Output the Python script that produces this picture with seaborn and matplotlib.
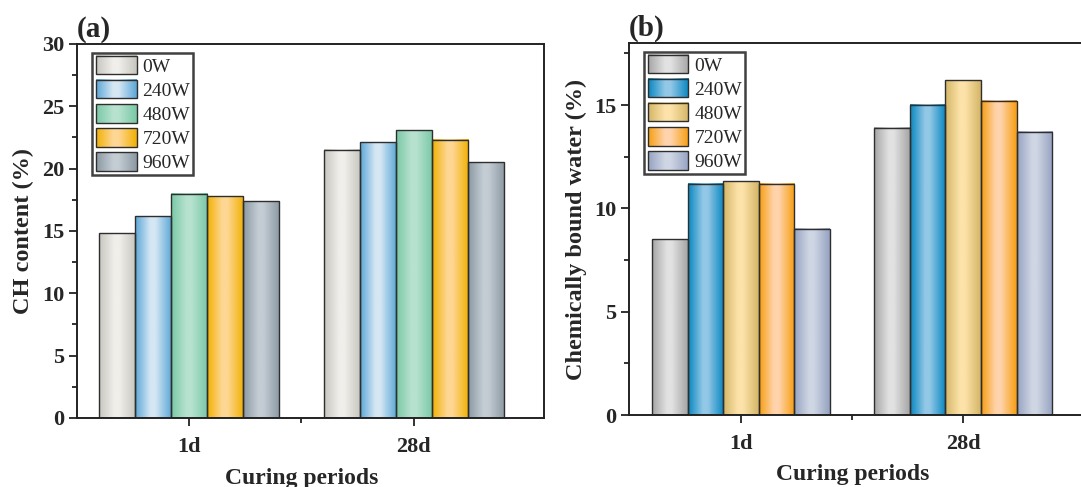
import numpy as np
import pandas as pd
import matplotlib
matplotlib.use("Agg")
import matplotlib.pyplot as plt
import seaborn as sns
from matplotlib.colors import LinearSegmentedColormap, Normalize
from matplotlib.legend_handler import HandlerBase
from matplotlib.image import BboxImage
from matplotlib.transforms import Bbox, TransformedBbox
from matplotlib.patches import Rectangle
from matplotlib.ticker import MultipleLocator, FixedLocator

# ---- data ----
periods = ["1d", "28d"]
powers = ["0W", "240W", "480W", "720W", "960W"]

ch_1d = [14.8, 16.2, 18.0, 17.8, 17.4]
ch_28d = [21.5, 22.1, 23.1, 22.3, 20.5]

cbw_1d = [8.5, 11.2, 11.3, 11.2, 9.0]
cbw_28d = [13.9, 15.0, 16.2, 15.2, 13.7]

# (edge colour, highlight colour) for the cylinder-style shading
shade_a = [("#c6c5be", "#f0efeb"), ("#5aa6d7", "#d6e7f4"), ("#78c8a5", "#b7e2cf"),
           ("#f2b000", "#fed795"), ("#8b98a2", "#c4cdd4")]
shade_b = [("#a5a5a5", "#e2e2e2"), ("#0786c0", "#93c8e7"), ("#d4b565", "#fde3aa"),
           ("#f79d0e", "#ffd4ad"), ("#95a2c1", "#cfd6e4")]

EDGE = "#2e2e2e"
GRAD = np.linspace(0, 1, 256).reshape(1, -1)


def make_cmap(edge, light):
    return LinearSegmentedColormap.from_list(
        "cyl", [(0.0, edge), (0.42, light), (0.55, light), (1.0, edge)])


class GradientKey:
    def __init__(self, cmap):
        self.cmap = cmap


class GradientHandler(HandlerBase):
    def create_artists(self, legend, orig_handle, xdescent, ydescent,
                       width, height, fontsize, trans):
        bb = TransformedBbox(Bbox.from_bounds(-xdescent, -ydescent, width, height), trans)
        img = BboxImage(bb, cmap=orig_handle.cmap, norm=Normalize(0, 1),
                        interpolation="bicubic")
        img.set_data(GRAD)
        frame = Rectangle((-xdescent, -ydescent), width, height, facecolor="none",
                          edgecolor=EDGE, linewidth=1.0, transform=trans)
        return [img, frame]


sns.set_style("ticks")
plt.rcParams["font.family"] = ["Liberation Serif", "DejaVu Serif"]
plt.rcParams["axes.linewidth"] = 1.2

fig = plt.figure(figsize=(10.81, 4.87), dpi=100)
ax_a = fig.add_axes([0.0712, 0.1417, 0.4320, 0.7680])
ax_b = fig.add_axes([0.5819, 0.1478, 0.4283, 0.7639])


def draw_panel(ax, v1, v28, shades, ylim, ylabel, tag, xlim, ylab_x):
    df = pd.DataFrame({
        "period": np.repeat(periods, len(powers)),
        "power": powers * len(periods),
        "value": list(v1) + list(v28),
    })
    cmaps = [make_cmap(e, l) for e, l in shades]
    sns.barplot(data=df, x="period", y="value", hue="power", order=periods,
                hue_order=powers, palette=[l for _, l in shades], width=0.8,
                edgecolor=EDGE, linewidth=1.0, errorbar=None, ax=ax, legend=False)
    for cont, cmap in zip(ax.containers, cmaps):
        for bar in cont:
            x0, y0 = bar.get_x(), bar.get_y()
            w, h = bar.get_width(), bar.get_height()
            ax.imshow(GRAD, cmap=cmap, norm=Normalize(0, 1), aspect="auto",
                      interpolation="bicubic", extent=[x0, x0 + w, y0, y0 + h],
                      zorder=1.5)
            bar.set_facecolor("none")
            bar.set_zorder(2)
    ax.set_xlim(*xlim)
    ax.set_ylim(*ylim)
    ax.set_aspect("auto")

    for s in ax.spines.values():
        s.set_visible(True)
        s.set_color("#222222")
        s.set_linewidth(1.4)

    ax.yaxis.set_major_locator(MultipleLocator(5))
    ax.yaxis.set_minor_locator(MultipleLocator(2.5))
    ax.xaxis.set_minor_locator(FixedLocator([0.5]))
    ax.tick_params(axis="both", which="major", direction="out", length=6, width=1.3,
                   labelsize=16, color="#222222")
    ax.tick_params(axis="y", which="major", pad=3)
    ax.tick_params(axis="x", which="major", pad=8)
    ax.tick_params(axis="both", which="minor", direction="out", length=3.5, width=1.3,
                   color="#222222")
    ax.tick_params(top=False, right=False, which="both")
    for lab in ax.get_xticklabels() + ax.get_yticklabels():
        lab.set_fontweight("bold")

    ax.set_ylabel(ylabel, fontsize=17.5, fontweight="bold")
    ax.set_xlabel("Curing periods", fontsize=17, fontweight="bold")
    ax.yaxis.set_label_coords(ylab_x, 0.5)

    handles = [GradientKey(c) for c in cmaps]
    leg = ax.legend(handles, powers, handler_map={GradientKey: GradientHandler()},
                    loc="upper left", bbox_to_anchor=(0.033, 0.977), borderaxespad=0,
                    prop={"family": "Liberation Serif", "size": 14},
                    handlelength=2.1, handleheight=1.08, labelspacing=0.22,
                    handletextpad=0.3, borderpad=0.17, frameon=True, fancybox=False)
    leg.get_frame().set_edgecolor("#111111")
    leg.get_frame().set_linewidth(1.8)
    leg.set_zorder(5)

    ax.text(0.0, 1.002, tag, transform=ax.transAxes, ha="left", va="bottom",
            fontsize=21, fontweight="bold")


draw_panel(ax_a, ch_1d, ch_28d, shade_a, (0, 30), "CH content (%)", "(a)",
           (-0.497, 1.578), -0.093)
draw_panel(ax_b, cbw_1d, cbw_28d, shade_b, (0, 18), "Chemically bound water (%)", "(b)",
           (-0.505, 1.58), -0.090)

# centre the x titles under the gap between the two groups
for ax in (ax_a, ax_b):
    x0, x1 = ax.get_xlim()
    ax.xaxis.set_label_coords((0.5 - x0) / (x1 - x0), -0.133)

fig.savefig("out.png", dpi=100)
